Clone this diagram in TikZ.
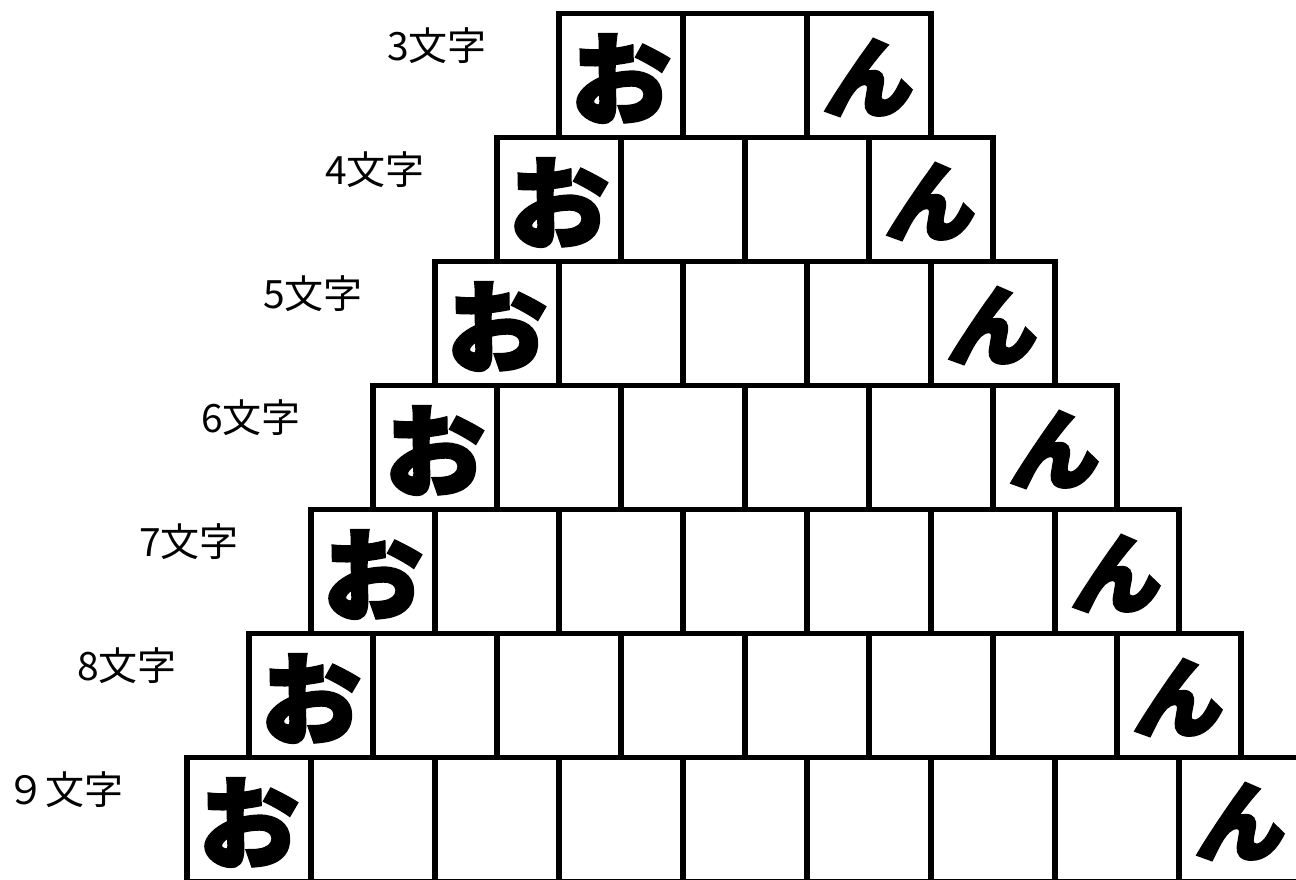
\documentclass[tikz,border=0pt]{standalone}
\usepackage{fontspec}
\newfontfamily\jpfont{Noto Sans CJK JP}
\newfontfamily\bigfont[BoldFeatures={FakeBold=3}]{Noto Sans CJK JP}
\newfontfamily\slfont[FakeSlant=0.2,BoldFeatures={FakeBold=3,FakeSlant=0.2}]{Noto Sans CJK JP}
\begin{document}
\begin{tikzpicture}[x=1pt,y=-1pt,
  cellbox/.style={draw, line width=5.5pt, minimum width=124pt, minimum height=124pt, inner sep=0pt, anchor=center},
  lab/.style={font=\jpfont\fontsize{39}{39}\selectfont, inner sep=0pt},
  och/.style={font=\bigfont\bfseries\fontsize{100}{100}\selectfont, inner sep=0pt, yshift=-3pt},
  nch/.style={font=\slfont\bfseries\fontsize{88}{88}\selectfont, inner sep=0pt, yshift=-2pt, xshift=-3pt}]
\useasboundingbox (0,0) rectangle (1296,879);
\clip (0,0) rectangle (1296,879);
\fill[white] (0,0) rectangle (1296,879);
\foreach \k/\t in {0/3文字,1/4文字,2/5文字,3/6文字,4/7文字,5/8文字,6/９文字} {
  \pgfmathtruncatemacro\n{\k+2}
  \foreach \j in {0,...,\n} {
    \node[cellbox] (c\k-\j) at ({621-62*\k+124*\j},{75.5+124*\k}) {};
  }
  \node[lab] (l\k) at ({437-62*\k},{46+124*\k}) {\t};
  \node[och] (o\k) at (c\k-0) {お};
  \node[nch] (n\k) at (c\k-\n) {ん};
}
\end{tikzpicture}
\end{document}
